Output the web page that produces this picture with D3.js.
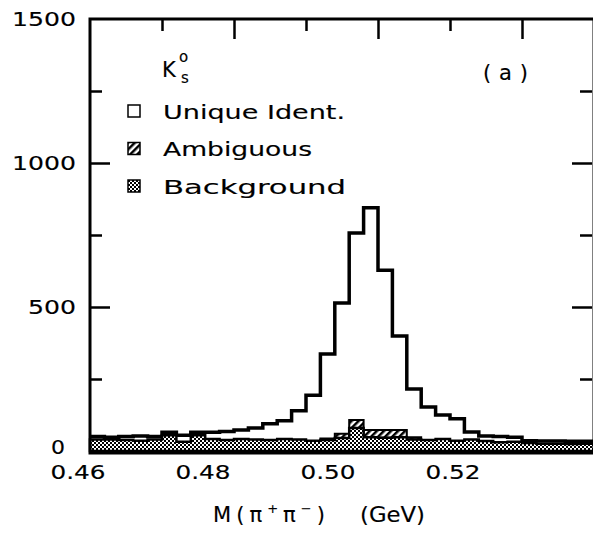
<!DOCTYPE html>
<html>
<head>
<style>
  body{ margin:0; background:#fff; }
  text{ font-family:"DejaVu Sans", sans-serif; fill:#000; stroke:#000; stroke-width:0.15px; }
  .tick-label{ font-size:20px; }
  .legend-label{ font-size:20px; }
</style>
<script src="https://d3js.org/d3.v7.min.js"></script>
</head>
<body>
<div id="chart"></div>
<script>
// lower edges of the 2 MeV mass bins (GeV)
const binEdges = [0.460,0.462,0.464,0.466,0.468,0.470,0.472,0.474,0.476,0.478,
                  0.480,0.482,0.484,0.486,0.488,0.490,0.492,0.494,0.496,0.498,
                  0.500,0.502,0.504,0.506,0.508,0.510,0.512,0.514,0.516,0.518,
                  0.520,0.522,0.524,0.526,0.528,0.530];
// total entries per bin (outline)
const totalCounts = [50,48,50,52,50,65,55,65,65,68,73,80,95,105,140,194,337,514,757,845,
                     628,399,215,153,125,112,66,52,50,48,36,35,35,34,34];
const ambiguousCounts = [0,0,0,0,0,0,0,0,0,0,0,0,0,0,0,0,5,15,28,25,
                         27,25,8,0,0,0,0,0,0,0,0,0,0,0,0];
const backgroundCounts = [40,40,38,36,40,55,32,55,42,38,42,40,38,42,40,36,38,45,80,48,
                          46,48,40,38,42,36,40,35,30,32,28,25,25,24,25];
const massTicks = [0.46,0.48,0.50,0.52];
const countTicks = [0,500,1000,1500];
const legendLabels = ['Unique Ident.','Ambiguous','Background'];

const width = 593, height = 535;
const svg = d3.select('#chart').append('svg')
  .attr('width', width).attr('height', height);

const defs = svg.append('defs');
const checker = defs.append('pattern').attr('id','checker')
  .attr('patternUnits','userSpaceOnUse').attr('width',4).attr('height',4);
checker.append('rect').attr('width',4).attr('height',4).attr('fill','#fff');
checker.append('rect').attr('width',2).attr('height',2).attr('fill','#000');
checker.append('rect').attr('x',2).attr('y',2).attr('width',2).attr('height',2).attr('fill','#000');
const hatch = defs.append('pattern').attr('id','hatch')
  .attr('patternUnits','userSpaceOnUse').attr('width',5).attr('height',5)
  .attr('patternTransform','rotate(45)');
hatch.append('rect').attr('width',5).attr('height',5).attr('fill','#fff');
hatch.append('rect').attr('width',2.5).attr('height',5).attr('fill','#000');

const x = d3.scaleLinear().domain([0.46,0.53]).range([90,594]);
const xLabel = d3.scaleLinear().domain([0.46,0.52]).range([77,452]); // labels printed offset from ticks
const y = d3.scaleLinear().domain([0,1500]).range([451,19]);

// step series
const steps = vals => vals.map((v,i)=>[binEdges[i], v]).concat([[binEdges[vals.length], vals[vals.length-1]]]);
const bgTop = backgroundCounts;
const ambTop = backgroundCounts.map((b,i)=>b+ambiguousCounts[i]);

const area = d3.area().curve(d3.curveStepAfter)
  .x(d=>x(d[0])).y0(d=>y(d[2])).y1(d=>y(d[1]));
const line = d3.line().curve(d3.curveStepAfter).x(d=>x(d[0])).y(d=>y(d[1]));

const totalPts = steps(totalCounts).map(d=>[d[0],d[1],0]);
const ambPts = steps(ambTop).map((d,i)=>[d[0],d[1],bgTop[Math.min(i,bgTop.length-1)]]);
const bgPts = steps(bgTop).map(d=>[d[0],d[1],0]);

svg.append('path').attr('d', area(totalPts)).attr('fill','#fff');
svg.append('path').attr('d', line(totalPts)).attr('fill','none')
  .attr('stroke','#000').attr('stroke-width',3.5);
svg.append('path').attr('d', area(ambPts.filter((d,i)=>i>=16 && i<=23)))
  .attr('fill','url(#hatch)').attr('stroke','#000').attr('stroke-width',2);
svg.append('path').attr('d', area(bgPts)).attr('fill','url(#checker)')
  .attr('stroke','#000').attr('stroke-width',2.5);

// frame
svg.append('rect').attr('x',x(0.46)).attr('y',y(1500))
  .attr('width',x(0.53)-x(0.46)).attr('height',y(0)-y(1500)+2)
  .attr('fill','none').attr('stroke','#000').attr('stroke-width',3);

// ticks (inward)
const minorX = [0.47,0.49,0.51], majorX = [0.48,0.50,0.52];
svg.append('g').call(d3.axisBottom(x).tickValues(majorX).tickSize(20).tickFormat(''))
  .attr('transform',`translate(0,${y(1500)})`).call(g=>g.select('.domain').remove())
  .selectAll('line').attr('stroke-width',2.5);
svg.append('g').call(d3.axisBottom(x).tickValues(minorX).tickSize(12).tickFormat(''))
  .attr('transform',`translate(0,${y(1500)})`).call(g=>g.select('.domain').remove())
  .selectAll('line').attr('stroke-width',2.5);
const minorY = [250,750,1250], majorY = [500,1000];
[[d3.axisRight, x(0.46)],[d3.axisLeft, x(0.53)-2]].forEach(([ax, px])=>{
  svg.append('g').attr('transform',`translate(${px},0)`)
    .call(ax(y).tickValues(majorY).tickSize(20).tickFormat(''))
    .call(g=>g.select('.domain').remove()).selectAll('line').attr('stroke-width',2.5);
  svg.append('g').attr('transform',`translate(${px},0)`)
    .call(ax(y).tickValues(minorY).tickSize(12).tickFormat(''))
    .call(g=>g.select('.domain').remove()).selectAll('line').attr('stroke-width',2.5);
});

// tick labels (old plotter lettering is wide: stretch to the printed widths)
svg.append('g').selectAll('text').data(countTicks).join('text')
  .attr('class','tick-label').attr('text-anchor','end')
  .attr('x', d => d===0 ? 65 : 76).attr('y', d => d===0 ? y(d)-4 : y(d)).attr('dy','0.36em')
  .attr('textLength', d => d===0 ? 14 : String(d).length*16)
  .attr('lengthAdjust','spacingAndGlyphs')
  .text(d=>d);
svg.append('g').selectAll('text').data(massTicks).join('text')
  .attr('class','tick-label').attr('text-anchor','middle')
  .attr('x', d=>xLabel(d)+1).attr('y', 479)
  .attr('textLength',55).attr('lengthAdjust','spacingAndGlyphs')
  .text(d=>d.toFixed(2));

// axis title
const title = svg.append('text').attr('x',213).attr('y',522)
  .style('font-size','21px').attr('textLength',112).attr('lengthAdjust','spacing');
title.append('tspan').text('M(');
title.append('tspan').text('π');
title.append('tspan').attr('dy',-9).style('font-size','13px').text('+');
title.append('tspan').attr('dy',9).text('π');
title.append('tspan').attr('dy',-9).style('font-size','13px').text('−');
title.append('tspan').attr('dy',9).text(')');
svg.append('text').attr('x',360).attr('y',522)
  .style('font-size','21px').attr('textLength',65).attr('lengthAdjust','spacingAndGlyphs')
  .text('(GeV)');

// K0s label
svg.append('text').attr('x',162).attr('y',77).style('font-size','21px').text('K');
svg.append('text').attr('x',179).attr('y',62).style('font-size','15px').text('o');
svg.append('text').attr('x',181).attr('y',83).style('font-size','15px').text('s');
svg.append('text').attr('x',483).attr('y',80).style('font-size','21px')
  .attr('textLength',45).attr('lengthAdjust','spacing').text('(a)');

// legend
const fills = ['#fff','url(#hatch)','url(#checker)'];
const legendWidths = [182,149,183];
const legendY = d3.scalePoint().domain(legendLabels).range([111,186]);
const lg = svg.append('g');
lg.selectAll('rect').data(legendLabels).join('rect')
  .attr('x',128).attr('y',d=>legendY(d)-6).attr('width',12).attr('height',12)
  .attr('fill',(d,i)=>fills[i]).attr('stroke','#000').attr('stroke-width',1.5);
lg.selectAll('text').data(legendLabels).join('text')
  .attr('class','legend-label').attr('x',163).attr('y',d=>legendY(d)).attr('dy','0.38em')
  .attr('textLength',(d,i)=>legendWidths[i]).attr('lengthAdjust','spacingAndGlyphs')
  .text(d=>d);
</script>
</body>
</html>
